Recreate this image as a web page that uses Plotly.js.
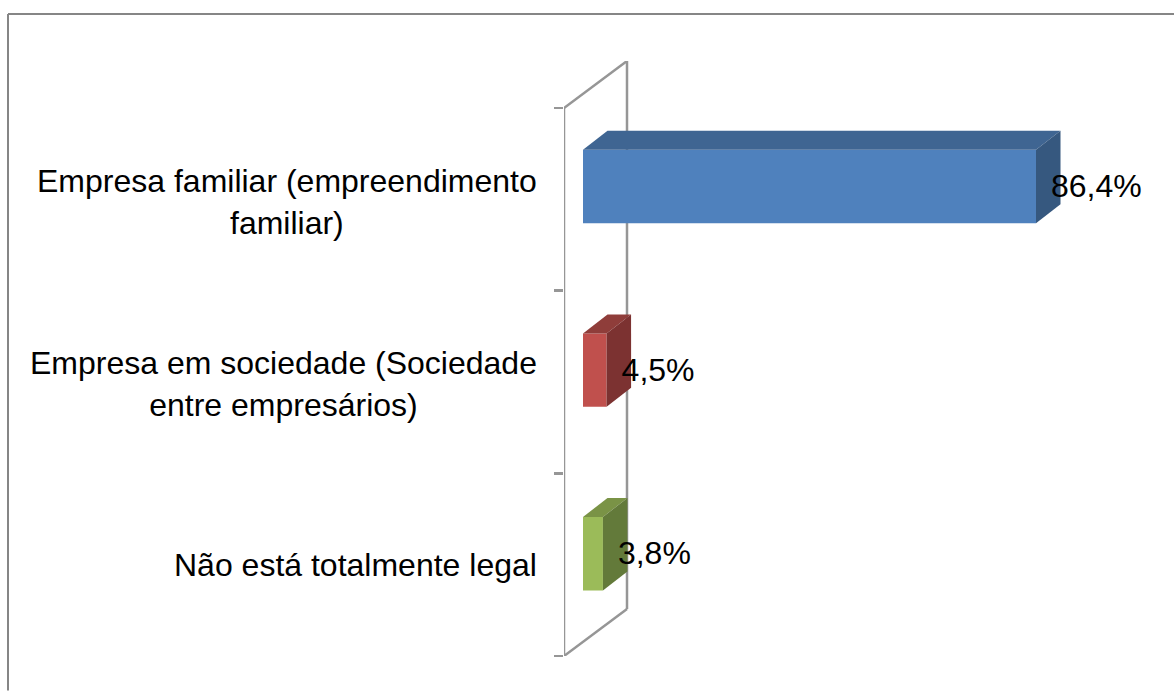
<!DOCTYPE html>
<html>
<head>
<meta charset="utf-8">
<script src="https://cdn.plot.ly/plotly-3.0.1.min.js"></script>
<style>html,body{margin:0;padding:0;background:#fff;overflow:hidden}</style>
</head>
<body>
<div id="chart" style="width:1174px;height:691px"></div>
<script>
var categories = ["Empresa familiar (empreendimento<br>familiar)", "Empresa em sociedade (Sociedade<br>entre empresários)", "Não está totalmente legal"];
var values = [86.4, 4.5, 3.8];
var valueLabels = ["86,4%", "4,5%", "3,8%"];
var frontColors = ["#4F81BD", "#C0504D", "#9BBB59"];
var topColors = ["#3F6592", "#8F3D3A", "#7A9346"];
var sideColors = ["#36587F", "#7C3231", "#637A3A"];

var W = 1174, H = 691, L = 564, T = 61, B = 34.5;
var pxX = 5.243, pxY = 182.8;
var xMin = -19 / pxX, xMax = (W - 583) / pxX;
var wallDx = 63 / pxX, wallDy = 47 / pxY;
var barDx = 24.5 / pxX, barDy = 19 / pxY;
var barW = 73.5 / pxY;
var n = categories.length;
var pos = categories.map(function (_, i) { return (n - 1 - i) * 1.005 + 0.56; });
var mid = categories.map(function (_, i) { return n - 1 - i + 0.5; });

var traces = [{
  type: "bar", orientation: "h", x: values, y: pos, width: barW, base: 0,
  marker: { color: frontColors, line: { width: 0 } }, hoverinfo: "skip", showlegend: false
}];
values.forEach(function (v, i) {
  var y0 = pos[i] - barW / 2, y1 = pos[i] + barW / 2;
  traces.push({
    type: "scatter", mode: "lines", fill: "toself", fillcolor: topColors[i],
    line: { width: 0, color: topColors[i] }, hoverinfo: "skip", showlegend: false,
    x: [0, barDx, v + barDx, v, 0], y: [y1, y1 + barDy, y1 + barDy, y1, y1]
  });
  traces.push({
    type: "scatter", mode: "lines", fill: "toself", fillcolor: sideColors[i],
    line: { width: 0, color: sideColors[i] }, hoverinfo: "skip", showlegend: false,
    x: [v, v + barDx, v + barDx, v, v], y: [y1, y1 + barDy, y0 + barDy, y0, y1]
  });
});
traces.push({
  type: "scatter", mode: "text", x: values.map(function (v) { return v + 15 / pxX; }),
  y: pos.map(function (p) { return p - 2.5 / pxY; }), text: valueLabels, textposition: "middle right",
  textfont: { family: "Liberation Sans, Arial, sans-serif", size: 32, color: "#000" },
  hoverinfo: "skip", showlegend: false, cliponaxis: false
});

var wall = "#969696";
function wallLine(x0, y0, x1, y1) {
  return { type: "line", xref: "x", yref: "y", layer: "below", x0: x0, y0: y0, x1: x1, y1: y1, line: { color: wall, width: 2.5 } };
}
var backX = xMin + wallDx;
var shapes = [
  wallLine(xMin, n, backX, n + wallDy),
  wallLine(backX, n + wallDy, backX, wallDy),
  wallLine(backX, wallDy, xMin, 0),
  wallLine(xMin, 0, xMin, n),
  { type: "line", xref: "paper", yref: "paper", x0: (8 - L) / (W - L), x1: 1, y0: (H - B - 14) / (H - T - B), y1: (H - B - 14) / (H - T - B), line: { color: "#868686", width: 2 } },
  { type: "line", xref: "paper", yref: "paper", x0: (8 - L) / (W - L), x1: (8 - L) / (W - L), y0: -B / (H - T - B), y1: (H - B - 14) / (H - T - B), line: { color: "#868686", width: 2 } }
];
var annotations = categories.map(function (c, i) {
  return {
    text: c, xref: "paper", yref: "y", x: (539 - L) / (W - L), y: mid[i], xanchor: "right", yanchor: "middle",
    yshift: c.indexOf("<br>") >= 0 ? -2.5 : 0,
    align: "center", showarrow: false,
    font: { family: "Liberation Sans, Arial, sans-serif", size: 32, color: "#000" }
  };
});

Plotly.newPlot("chart", traces, {
  width: W, height: H, margin: { l: L, r: 0, t: T, b: B, pad: 0 },
  paper_bgcolor: "#fff", plot_bgcolor: "rgba(0,0,0,0)", showlegend: false,
  barmode: "overlay",
  xaxis: { range: [xMin, xMax], visible: false, fixedrange: true },
  yaxis: {
    range: [0, n + wallDy], showgrid: false, zeroline: false, showline: false,
    ticks: "outside", ticklen: 9, tickwidth: 2.5, tickcolor: wall, tickmode: "array",
    tickvals: [0, 1, 2, 3], showticklabels: false, fixedrange: true
  },
  shapes: shapes, annotations: annotations
}, { displayModeBar: false, staticPlot: true });
</script>
</body>
</html>
